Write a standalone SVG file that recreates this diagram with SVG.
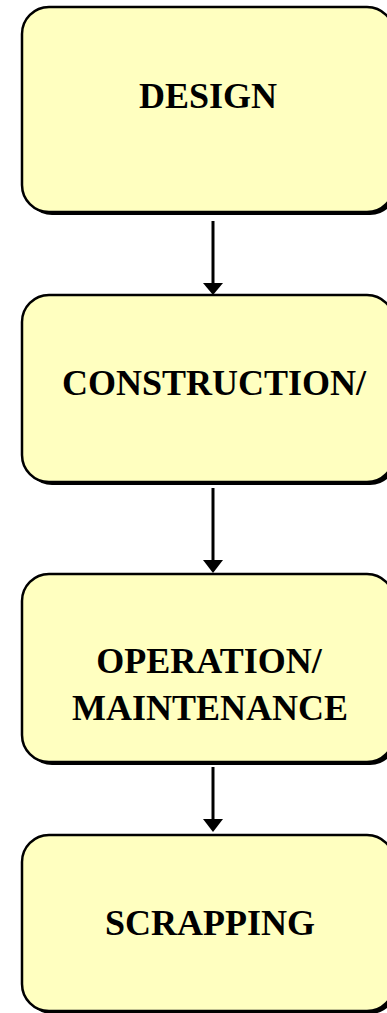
<svg xmlns="http://www.w3.org/2000/svg" width="387" height="1013" viewBox="0 0 387 1013">
<style>
.box{fill:#FFFFC0;stroke:#000;stroke-width:2.5}
.shadow{fill:#000}
.lbl{font-family:"Liberation Serif","Times New Roman",serif;font-weight:bold;font-size:36px;fill:#000;text-anchor:middle}
.conn{stroke:#000;stroke-width:3;fill:none}
.head{fill:#000}
</style>
<rect width="387" height="1013" fill="#fff"/>
<g id="node-design">
<rect class="shadow" x="25" y="10" width="372" height="205" rx="27"/>
<rect class="box" x="22" y="7" width="372" height="205" rx="27"/>
<text class="lbl" x="208" y="108">DESIGN</text>
</g>
<g id="node-construction">
<rect class="shadow" x="25" y="298" width="372" height="187" rx="27"/>
<rect class="box" x="22" y="295" width="372" height="187" rx="27"/>
<text class="lbl" x="214" y="395">CONSTRUCTION/</text>
</g>
<g id="node-operation">
<rect class="shadow" x="25" y="577" width="372" height="188" rx="27"/>
<rect class="box" x="22" y="574" width="372" height="188" rx="27"/>
<text class="lbl" x="209" y="673">OPERATION/</text>
<text class="lbl" x="210" y="720">MAINTENANCE</text>
</g>
<g id="node-scrapping">
<rect class="shadow" x="25" y="838" width="372" height="176" rx="27"/>
<rect class="box" x="22" y="835" width="372" height="176" rx="27"/>
<text class="lbl" x="210" y="935">SCRAPPING</text>
</g>
<g id="connectors">
<line class="conn" x1="213" y1="221" x2="213" y2="284"/>
<polygon class="head" points="203,283 223,283 213,295"/>
<line class="conn" x1="213" y1="488" x2="213" y2="560"/>
<polygon class="head" points="203,560 223,560 213,573"/>
<line class="conn" x1="213" y1="767" x2="213" y2="820"/>
<polygon class="head" points="203,819 223,819 213,832"/>
</g>
</svg>
